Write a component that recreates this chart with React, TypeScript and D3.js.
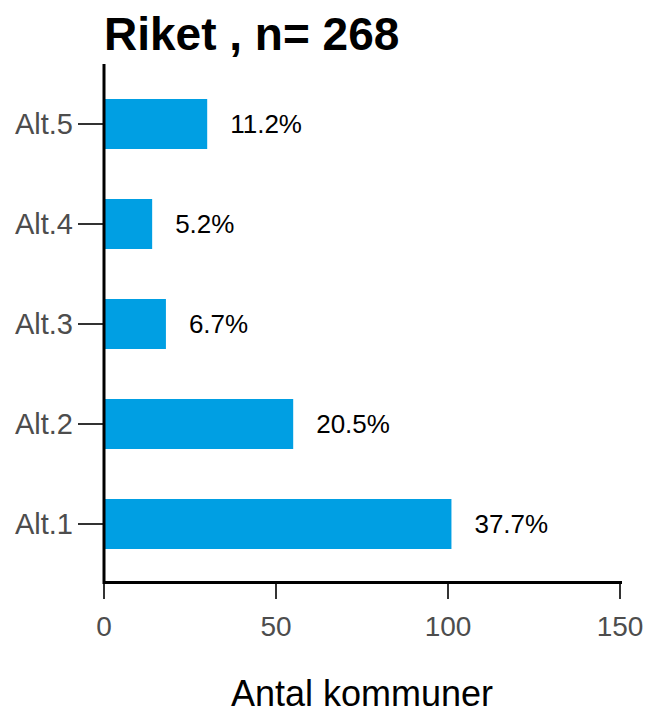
import React from "react";
import * as d3 from "d3";

const categories = ["Alt.1", "Alt.2", "Alt.3", "Alt.4", "Alt.5"];
const counts = [101, 55, 18, 14, 30];
const percentLabels = ["37.7%", "20.5%", "6.7%", "5.2%", "11.2%"];
const xTicks = [0, 50, 100, 150];
const title = "Riket , n= 268";
const xTitle = "Antal kommuner";

const W = 646;
const H = 716;
const left = 104;
const right = 620;
const top = 64;
const bottom = 584;

export default function App() {
  const x = d3.scaleLinear().domain([0, 150]).range([left, right]);
  // discrete positions 1..5 with 0.6 expansion each side
  const y = d3
    .scaleLinear()
    .domain([0.4, 5.6])
    .range([bottom, top]);
  const barH = 50;
  const font = "Liberation Sans, Arial, sans-serif";
  return (
    <svg width={W} height={H} style={{ position: "absolute", left: 0, top: 0 }}>
      <rect width={W} height={H} fill="#fff" />
      <text x={104} y={50} fontFamily={font} fontWeight="bold" fontSize={46} fill="#000">
        {title}
      </text>
      {categories.map((c, i) => {
        const cy = y(i + 1);
        return (
          <g key={c}>
            <rect x={x(0)} y={cy - barH / 2} width={x(counts[i]) - x(0)} height={barH} fill="#009FE3" />
            <text x={x(counts[i]) + 23} y={cy} dy="0.36em" fontFamily={font} fontSize={26} fill="#000">
              {percentLabels[i]}
            </text>
            <line x1={78} x2={left} y1={cy} y2={cy} stroke="#333" strokeWidth={2} />
            <text x={73} y={cy} dy="0.36em" textAnchor="end" fontFamily={font} fontSize={29} fill="#4d4d4d">
              {c}
            </text>
          </g>
        );
      })}
      {xTicks.map((t) => (
        <g key={t}>
          <line x1={x(t)} x2={x(t)} y1={bottom} y2={599} stroke="#333" strokeWidth={2} />
          <text x={x(t)} y={636} textAnchor="middle" fontFamily={font} fontSize={28} fill="#4d4d4d">
            {t}
          </text>
        </g>
      ))}
      <line x1={left} x2={622} y1={582.5} y2={582.5} stroke="#000" strokeWidth={3} />
      <line x1={left} x2={left} y1={64} y2={584} stroke="#000" strokeWidth={3} />
      <text x={(left + right) / 2} y={706} textAnchor="middle" fontFamily={font} fontSize={36} fill="#000">
        {xTitle}
      </text>
    </svg>
  );
}
